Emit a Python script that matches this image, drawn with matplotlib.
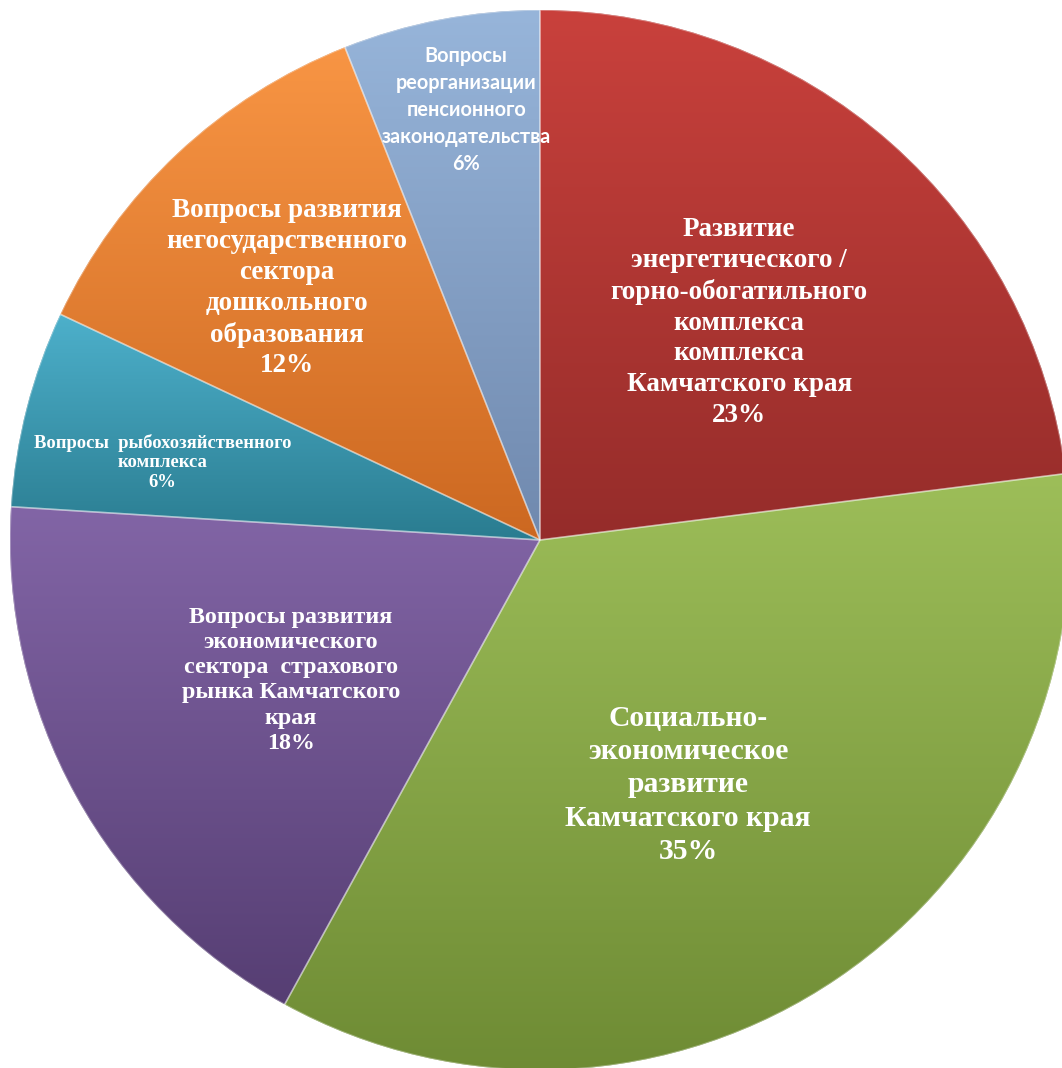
import numpy as np
import matplotlib
matplotlib.use('Agg')
import matplotlib.pyplot as plt
from matplotlib.colors import to_rgb
from matplotlib.patches import Wedge

# доли тем
labels = ['Развитие\nэнергетического /\nгорно-обогатильного\nкомплекса\nкомплекса\nКамчатского края',
          'Социально-\nэкономическое\nразвитие\nКамчатского края',
          'Вопросы развития\nэкономического\nсектора  страхового\nрынка Камчатского\nкрая',
          'Вопросы  рыбохозяйственного\nкомплекса',
          'Вопросы развития\nнегосударственного\nсектора\nдошкольного\nобразования',
          'Вопросы\nреорганизации\nпенсионного\nзаконодательства']
values = [23, 35, 18, 6, 12, 6]

# цвета: верх / низ градиента
top_colors = ['#C9413C', '#9DBE59', '#8265A6', '#4DB0CB', '#F89544', '#97B5DA']
bottom_colors = ['#952C2A', '#6E8B34', '#563E73', '#2A7C90', '#CC6821', '#7089AE']

# положение подписей (доли осей), размер, шрифт
label_pos = [(0.696, 0.698), (0.648, 0.265), (0.274, 0.363), (0.153, 0.567), (0.270, 0.730), (0.439, 0.897)]
label_size = [19.5, 21.3, 17.3, 13.4, 19.5, 14.3]
label_ls = [1.3, 1.3, 1.27, 1.2, 1.3, 1.44]
label_font = ['Liberation Serif'] * 5 + ['Lato']

W, H = 1062, 1068
fig = plt.figure(figsize=(W / 100, H / 100), dpi=100)
ax = fig.add_axes([0, 0, 1, 1])

cx, cy, R = 540, H - 540, 530
wedges, _ = ax.pie(values, startangle=90, counterclock=False, center=(cx, cy), radius=R,
                   colors=bottom_colors, wedgeprops=dict(linewidth=0), frame=True)

for i, w in enumerate(wedges):
    verts = w.get_path().vertices
    x0, x1 = verts[:, 0].min(), verts[:, 0].max()
    y0, y1 = verts[:, 1].min(), verts[:, 1].max()
    t = np.linspace(0, 1, 256)[:, None]
    c_top = np.array(to_rgb(top_colors[i]))
    c_bot = np.array(to_rgb(bottom_colors[i]))
    grad = (c_bot * (1 - t) + c_top * t)[:, None, :]
    im = ax.imshow(grad, extent=[x0, x1, y0, y1], origin='lower', aspect='auto',
                   interpolation='bilinear', zorder=2)
    im.set_clip_path(w)
    # светлая кромка
    edge = Wedge((cx, cy), R, w.theta1, w.theta2, facecolor='none',
                 edgecolor=(1, 1, 1, 0.35), linewidth=1.2, zorder=3)
    ax.add_patch(edge)

for i, lab in enumerate(labels):
    ax.text(label_pos[i][0], label_pos[i][1], f'{lab}\n{values[i]}%',
            transform=ax.transAxes, ha='center', va='center', color='white',
            fontsize=label_size[i], fontweight='bold', family=label_font[i],
            linespacing=label_ls[i], zorder=5)

ax.set_xlim(0, W)
ax.set_ylim(0, H)
ax.set_aspect('auto')
ax.axis('off')
fig.savefig('out.png', dpi=100, facecolor='white')
